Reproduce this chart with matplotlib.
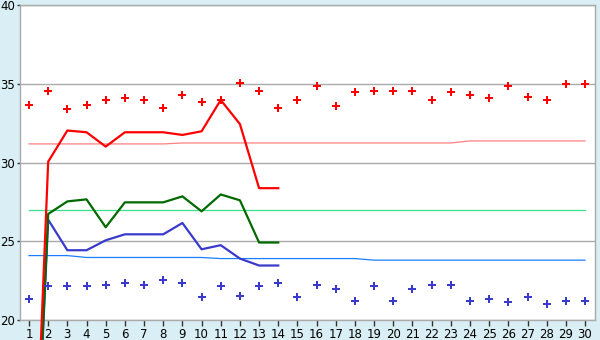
import matplotlib
matplotlib.use("Agg")
import matplotlib.pyplot as plt

# daily readings, days 1..30
days = list(range(1, 31))
line_days = list(range(1, 15))

upper_pts = [33.65, 34.54, 33.40, 33.65, 33.97, 34.09, 33.97, 33.46, 34.28, 33.84,
             33.97, 35.04, 34.54, 33.46, 33.97, 34.85, 33.59, 34.47, 34.54, 34.54,
             34.54, 33.97, 34.47, 34.28, 34.09, 34.85, 34.16, 33.97, 34.97, 34.97]
lower_pts = [21.31, 22.13, 22.13, 22.13, 22.20, 22.32, 22.20, 22.51, 22.32, 21.44,
             22.13, 21.50, 22.13, 22.32, 21.44, 22.20, 22.00, 21.18, 22.13, 21.18,
             22.00, 22.20, 22.20, 21.18, 21.31, 21.12, 21.44, 20.99, 21.18, 21.18]

red_line = [0, 30.05, 32.03, 31.92, 31.01, 31.92, 31.92, 31.92, 31.75, 31.98,
            33.97, 32.44, 28.37, 28.37]
green_line = [0, 26.73, 27.53, 27.66, 25.89, 27.47, 27.47, 27.47, 27.85, 26.90,
              27.97, 27.60, 24.92, 24.92]
blue_line = [0, 26.37, 24.43, 24.43, 25.06, 25.44, 25.44, 25.44, 26.16, 24.49,
             24.75, 23.90, 23.46, 23.46]

upper_ref = [31.18] * 8 + [31.24] * 15 + [31.37] * 7
mid_ref = [27.0] * 30
lower_ref = [24.09] * 3 + [23.97] * 7 + [23.90] * 8 + [23.80] * 12

y_ticks = [20, 25, 30, 35, 40]

BG = "#DAEFF5"
GRID = "#AAAAAA"

fig = plt.figure(figsize=(6, 3.4), dpi=100, facecolor=BG)
ax = fig.add_axes([20 / 600, 20 / 340, 575 / 600, 315 / 340])
ax.set_facecolor("white")

# thin reference lines
ax.plot(days, upper_ref, color="#FF8080", lw=0.9, zorder=2)
ax.plot(days, mid_ref, color="#3CE08C", lw=0.9, zorder=2)
ax.plot(days, lower_ref, color="#1A7FFF", lw=0.9, zorder=2)

# thick series lines (drawn past the axes bottom like the original)
ax.plot(line_days, blue_line, color="#3A3ACC", lw=1.6, zorder=3, clip_on=False)
ax.plot(line_days, green_line, color="#006A00", lw=1.6, zorder=3, clip_on=False)
ax.plot(line_days, red_line, color="#FF0000", lw=1.6, zorder=4, clip_on=False)

# point series
ax.plot(days, upper_pts, ls="none", marker="P", ms=5.5, mew=0, color="#FF0000", zorder=5)
ax.plot(days, lower_pts, ls="none", marker="P", ms=5.5, mew=0, color="#3A3ACC", zorder=5)

ax.set_xlim(0.53, 30.52)
ax.set_ylim(20, 40)
ax.set_xticks(days)
ax.set_yticks(y_ticks)
ax.tick_params(labelsize=8.5, length=4, width=1, color="#333333", pad=2)
ax.tick_params(axis="y", length=2.5, pad=1)
ax.grid(axis="y", color=GRID, lw=1)
ax.set_axisbelow(True)
for s in ax.spines.values():
    s.set_color(GRID)
    s.set_linewidth(1)

fig.savefig("out.png", dpi=100, facecolor=BG)
